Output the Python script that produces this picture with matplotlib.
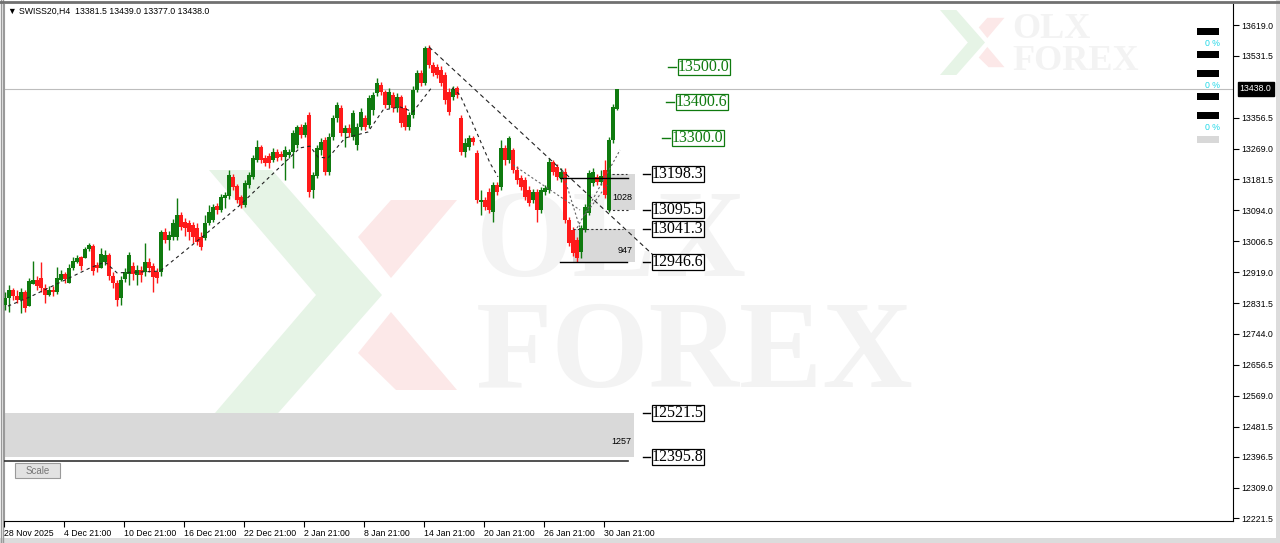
import matplotlib
matplotlib.use("Agg")
import matplotlib.pyplot as plt
from matplotlib.patches import Polygon, Rectangle
from matplotlib.transforms import blended_transform_factory

# SWISS20 H4 candles
opens = [12826, 12846, 12869, 12852, 12840, 12863, 12823, 12886, 12897, 12903,
         12874, 12854, 12869, 12863, 12897, 12914, 12888, 12931, 12948, 12962,
         12959, 12985, 12993, 12939, 12931, 12948, 12968, 12908, 12888, 12846,
         12900, 12914, 12937, 12911, 12925, 12920, 12948, 12937, 12920, 12920,
         13033, 13010, 13019, 13019, 13081, 13061, 13058, 13053, 13044, 13019,
         13016, 13058, 13067, 13106, 13095, 13129, 13135, 13189, 13163, 13132,
         13109, 13166, 13189, 13237, 13273, 13242, 13248, 13237, 13259, 13254,
         13245, 13251, 13259, 13279, 13330, 13307, 13364, 13152, 13191, 13265,
         13293, 13203, 13302, 13356, 13384, 13313, 13327, 13302, 13279, 13330,
         13356, 13336, 13378, 13426, 13449, 13429, 13392, 13421, 13384, 13415,
         13384, 13330, 13364, 13435, 13483, 13455, 13554, 13506, 13500, 13492,
         13477, 13429, 13415, 13441, 13356, 13259, 13273, 13299, 13256, 13118,
         13123, 13146, 13089, 13166, 13160, 13271, 13237, 13265, 13208, 13186,
         13180, 13152, 13123, 13146, 13095, 13146, 13152, 13231, 13217, 13186,
         13203, 13067, 13038, 13010, 12976, 13038, 13087, 13172, 13189, 13174,
         13208, 13095, 13293, 13381.5]
highs = [12863, 12883, 12874, 12869, 12874, 12869, 12903, 12951, 12908, 12948,
         12886, 12880, 12880, 12934, 12925, 12920, 12942, 12962, 12968, 12965,
         12990, 13002, 12999, 12948, 12987, 12982, 12973, 12920, 12897, 12908,
         12931, 12976, 12948, 12939, 12937, 13002, 12959, 12945, 12931, 13038,
         13044, 13036, 13070, 13129, 13089, 13072, 13067, 13061, 13058, 13033,
         13081, 13109, 13112, 13115, 13140, 13146, 13208, 13197, 13169, 13138,
         13180, 13203, 13251, 13293, 13279, 13251, 13256, 13271, 13268, 13262,
         13276, 13268, 13322, 13336, 13339, 13344, 13373, 13203, 13279, 13299,
         13302, 13313, 13364, 13401, 13392, 13336, 13339, 13378, 13341, 13384,
         13364, 13421, 13429, 13469, 13458, 13435, 13441, 13429, 13426, 13421,
         13392, 13373, 13446, 13492, 13492, 13560, 13562, 13514, 13509, 13503,
         13486, 13441, 13446, 13446, 13364, 13299, 13307, 13305, 13265, 13152,
         13132, 13157, 13174, 13174, 13293, 13279, 13305, 13271, 13220, 13194,
         13189, 13163, 13155, 13155, 13160, 13166, 13242, 13237, 13225, 13214,
         13214, 13075, 13047, 13019, 13053, 13112, 13208, 13214, 13197, 13208,
         13237, 13302, 13395, 13439.0]
lows = [12812, 12806, 12840, 12832, 12803, 12806, 12823, 12886, 12869, 12863,
        12832, 12852, 12852, 12857, 12894, 12888, 12888, 12925, 12945, 12925,
        12959, 12979, 12911, 12920, 12931, 12939, 12897, 12874, 12823, 12826,
        12891, 12883, 12897, 12883, 12891, 12908, 12920, 12863, 12888, 12908,
        13002, 12982, 13010, 13010, 13038, 13021, 13010, 13002, 12996, 12982,
        13010, 13053, 13061, 13084, 13089, 13101, 13126, 13152, 13115, 13101,
        13104, 13157, 13183, 13231, 13228, 13220, 13214, 13231, 13234, 13237,
        13180, 13242, 13214, 13271, 13299, 13302, 13132, 13129, 13186, 13251,
        13194, 13194, 13293, 13344, 13305, 13273, 13302, 13293, 13265, 13322,
        13322, 13327, 13364, 13418, 13421, 13384, 13384, 13373, 13373, 13330,
        13322, 13322, 13356, 13429, 13446, 13449, 13497, 13475, 13469, 13446,
        13395, 13364, 13407, 13412, 13251, 13245, 13265, 13279, 13115, 13081,
        13095, 13087, 13061, 13138, 13152, 13223, 13228, 13200, 13169, 13152,
        13123, 13106, 13115, 13061, 13087, 13138, 13143, 13194, 13180, 13174,
        13058, 12993, 12965, 12946.6, 12959, 13033, 13081, 13163, 13166, 13166,
        13129, 13089, 13285, 13377.0]
closes = [12846, 12869, 12852, 12840, 12863, 12818, 12894, 12897, 12880, 12874,
          12854, 12869, 12863, 12903, 12914, 12900, 12931, 12951, 12959, 12937,
          12985, 12996, 12922, 12931, 12970, 12968, 12908, 12888, 12840, 12897,
          12920, 12968, 12914, 12925, 12911, 12948, 12931, 12905, 12903, 13033,
          13010, 13024, 13058, 13081, 13047, 13044, 13033, 13019, 13004, 12990,
          13058, 13089, 13104, 13095, 13132, 13138, 13194, 13160, 13123, 13109,
          13172, 13194, 13242, 13273, 13237, 13228, 13228, 13259, 13242, 13245,
          13265, 13259, 13313, 13330, 13307, 13336, 13146, 13194, 13271, 13288,
          13203, 13302, 13356, 13392, 13313, 13327, 13313, 13370, 13330, 13373,
          13330, 13412, 13421, 13455, 13429, 13392, 13429, 13384, 13415, 13341,
          13330, 13364, 13435, 13483, 13455, 13554, 13506, 13483, 13477, 13455,
          13407, 13373, 13438, 13421, 13259, 13285, 13299, 13288, 13123, 13123,
          13104, 13095, 13166, 13146, 13271, 13237, 13299, 13208, 13180, 13160,
          13132, 13115, 13146, 13095, 13152, 13157, 13231, 13203, 13189, 13203,
          13067, 13002, 12973, 12959, 13044, 13104, 13200, 13203, 13174, 13191,
          13138, 13293, 13387, 13438.0]

date_labels = ["28 Nov 2025", "4 Dec 21:00", "10 Dec 21:00", "16 Dec 21:00",
               "22 Dec 21:00", "2 Jan 21:00", "8 Jan 21:00", "14 Jan 21:00",
               "20 Jan 21:00", "26 Jan 21:00", "30 Jan 21:00"]
price_ticks = [13619.0, 13531.5, 13356.5, 13269.0, 13181.5, 13094.0, 13006.5,
               12919.0, 12831.5, 12744.0, 12656.5, 12569.0, 12481.5, 12396.5,
               12309.0, 12221.5]
last_price = 13438.0
title = "\u25BC SWISS20,H4  13381.5 13439.0 13377.0 13438.0"

# fibo levels (green = extension, black = retracement)
green_levels = [13500.0, 13400.6, 13300.0]
green_x = [168.25, 167.75, 166.75]
black_levels = [13198.3, 13095.5, 13041.3, 12946.6, 12521.5, 12395.8]
zones = [(150.75, 157.5, 13095.5, 13198.3, "1028"),
         (142.0, 157.5, 12946.6, 13041.3, "947"),
         (-0.25, 157.25, 12395.8, 12521.5, "1257")]

# dashed trend / zigzag lines (bar index, price)
rise_x = [0.75, 6.25, 21.25, 25, 28, 38.75, 50.5, 58.75, 73.75, 76.25, 78.25,
          80.75, 85, 90.75, 94.5, 98.75, 102, 106.75]
rise_y = [12823, 12849, 12931, 12948, 12917, 12922, 13030, 13109, 13271, 13276,
          13245, 13242, 13299, 13316, 13378, 13387, 13373, 13443]
fall_x = [111.75, 113.75, 116.25, 118.75, 121.25, 123.25]
fall_y = [13441, 13421, 13358, 13293, 13228, 13189]
peak_line = ([106, 162], [13557, 12968])
grey_lines = [([127, 143.75], [13223, 13095]),
              ([139.25, 143.75], [13208, 13044]),
              ([143, 153.75], [13044, 13265]),
              ([145, 150.5], [13081, 13166])]

GREEN = "#0f7a0f"
RED = "#ff1a1a"
SERIF = ["Liberation Serif", "DejaVu Serif"]
SANS = ["Liberation Sans", "DejaVu Sans"]

fig = plt.figure(figsize=(12.8, 5.43), dpi=100)
fig.patch.set_facecolor("white")

# background layer in pixel units: watermark, window frame, panel bits
bg = fig.add_axes([0, 0, 1, 1], zorder=0)
bg.set_xlim(0, 1280)
bg.set_ylim(543, 0)
bg.axis("off")


def logo(x0, y0, s, txt_size, tx, ty1, ty2):
    # shapes in units of the big logo (250 px box)
    g = [(0, 0), (0.252, 0), (0.692, 0.5), (0.252, 1), (0, 1), (0.428, 0.5)]
    r1 = [(0.728, 0.12), (0.992, 0.12), (0.728, 0.432), (0.596, 0.268)]
    r2 = [(0.728, 0.568), (0.992, 0.88), (0.748, 0.88), (0.596, 0.732)]
    for r in (r1, r2):
        bg.add_patch(Polygon([(x0 + s * a, y0 + s * b) for a, b in r], closed=True,
                             fc="#fce8e8", ec="none"))
    bg.add_patch(Polygon([(x0 + s * a, y0 + s * b) for a, b in g], closed=True,
                         fc="#e6f4e6", ec="none"))
    bg.text(tx, ty1, "OLX", fontsize=txt_size, fontweight="bold", family=SERIF,
            color="#f3f3f3", va="center", ha="left")
    bg.text(tx, ty2, "FOREX", fontsize=txt_size, fontweight="bold", family=SERIF,
            color="#f3f3f3", va="center", ha="left")


logo(209, 170, 250, 90, 476, 246, 357)
logo(940, 10, 65, 26, 1012, 29, 61)

bg.add_patch(Rectangle((0, 0), 4, 543, fc="white", ec="none"))
bg.plot([1, 1], [0, 543], color="#9a9a9a", lw=1)
bg.plot([3, 3], [0, 543], color="#9a9a9a", lw=1)
bg.plot([0, 1280], [2, 2], color="#707070", lw=2)
bg.add_patch(Rectangle((1276, 0), 4, 543, fc="#dcdcdc", ec="none"))
bg.add_patch(Rectangle((0, 538), 1280, 5, fc="#dcdcdc", ec="none"))
bg.text(8, 11, title, fontsize=6.3, family=SANS, va="center", ha="left")

# leftover indicator panel blocks
for yb in [28, 51, 70, 93, 112]:
    bg.add_patch(Rectangle((1197, yb), 22, 7, fc="black", ec="none"))
bg.add_patch(Rectangle((1197, 136), 22, 7, fc="#d8d8d8", ec="none"))
for yt in [44, 86, 128]:
    bg.text(1212, yt, "0 %", fontsize=6.3, family=SANS, color="#22d8e8",
            ha="center", va="center")

# Scale button
bg.add_patch(Rectangle((15, 463), 45, 15, fc="#e2e2e2", ec="#9a9a9a", lw=0.8))
bg.text(37.5, 471, "Scale", fontsize=7, family=SANS, color="#777777",
        ha="center", va="center")

# main chart
ax = fig.add_axes([4 / 1280, 22 / 543, 1229 / 1280, 517 / 543], zorder=2)
ax.patch.set_alpha(0)
ax.set_xlim(-0.25, 307)
ax.set_ylim(12214.3, 13678.5)

xs = list(range(len(closes)))
cols = [GREEN if c >= o else RED for o, c in zip(opens, closes)]
ax.vlines(xs, lows, highs, colors=cols, lw=1.0, zorder=4)
bottoms = [min(o, c) for o, c in zip(opens, closes)]
heights = [max(abs(c - o), 2.5) for o, c in zip(opens, closes)]
ax.bar(xs, heights, bottom=bottoms, width=0.8, color=cols, lw=0, zorder=5)

# current price line
ax.axhline(last_price, color="#bdbdbd", lw=0.8, zorder=1)

# fibo zones and lines
for x0, x1, y0, y1, lab in zones:
    ax.add_patch(Rectangle((x0, y0), x1 - x0, y1 - y0, fc="#d9d9d9", ec="none", zorder=2))
    ax.text(x1 - 0.6, y0 + (y1 - y0) * 0.35, lab, fontsize=6.5, family=SANS,
            ha="right", va="center", zorder=3)
ax.plot([138.75, 155.75], [13185, 13185], color="black", lw=1.0, zorder=6)
ax.plot([138.75, 155.5], [12946.6, 12946.6], color="black", lw=1.0, zorder=6)
ax.plot([-0.25, 155.75], [12384, 12384], color="#333333", lw=1.2, zorder=6)
for xa, xb, lv in [(151.75, 155.5, 13198.3), (150.75, 156.25, 13095.5), (142, 154.5, 13041.3)]:
    ax.plot([xa, xb], [lv, lv], color="#333333", lw=0.8, ls=(0, (2, 2)), zorder=6)

# dashed trend lines
ax.plot(rise_x, rise_y, color="#222222", lw=0.8, ls=(0, (3, 3)), zorder=6)
ax.plot(fall_x, fall_y, color="#222222", lw=0.8, ls=(0, (3, 3)), zorder=6)
ax.plot(*peak_line, color="#222222", lw=0.8, ls=(0, (4, 3)), zorder=6)
for gx, gy in grey_lines:
    ax.plot(gx, gy, color="#666666", lw=0.8, ls=(0, (2, 2)), zorder=6)

# level labels
for lv, lx in zip(green_levels, green_x):
    ax.plot([lx - 2.5, lx - 0.5], [lv, lv], color=GREEN, lw=1.0, zorder=6)
    ax.text(lx, lv, f"{lv:.1f}", fontsize=11.5, family=SERIF, color=GREEN,
            ha="left", va="center", zorder=7,
            bbox=dict(boxstyle="square,pad=0.0", fc="white", ec=GREEN, lw=0.9))
for lv in black_levels:
    ax.plot([159.5, 161.25], [lv, lv], color="black", lw=1.0, zorder=6)
    ax.text(161.75, lv, f"{lv:.1f}", fontsize=11.5, family=SERIF, color="black",
            ha="left", va="center", zorder=7,
            bbox=dict(boxstyle="square,pad=0.0", fc="white", ec="black", lw=0.9))

# axes styling
ax.spines["top"].set_visible(False)
ax.spines["left"].set_color("#9a9a9a")
ax.spines["right"].set_color("black")
ax.spines["bottom"].set_color("black")
ax.yaxis.tick_right()
ax.set_yticks(price_ticks)
ax.set_yticklabels([f"{p:.1f}" for p in price_ticks])
ax.tick_params(axis="y", direction="out", length=4, width=0.8, pad=2,
               labelsize=6.3, labelfontfamily=SANS)
ax.set_xticks([15 * k - 0.25 for k in range(len(date_labels))])
ax.set_xticklabels(date_labels, ha="left")
ax.tick_params(axis="x", direction="out", length=4, width=0.8, pad=2,
               labelsize=6.3, labelfontfamily=SANS)

tr = blended_transform_factory(ax.transAxes, ax.transData)
ax.text(1.0055, last_price, f"{last_price:.1f}", transform=tr, fontsize=6.3,
        family=SANS, color="white", ha="left", va="center", zorder=8, clip_on=False,
        bbox=dict(boxstyle="square,pad=0.25", fc="black", ec="black"))

fig.savefig("out.png", dpi=100)
